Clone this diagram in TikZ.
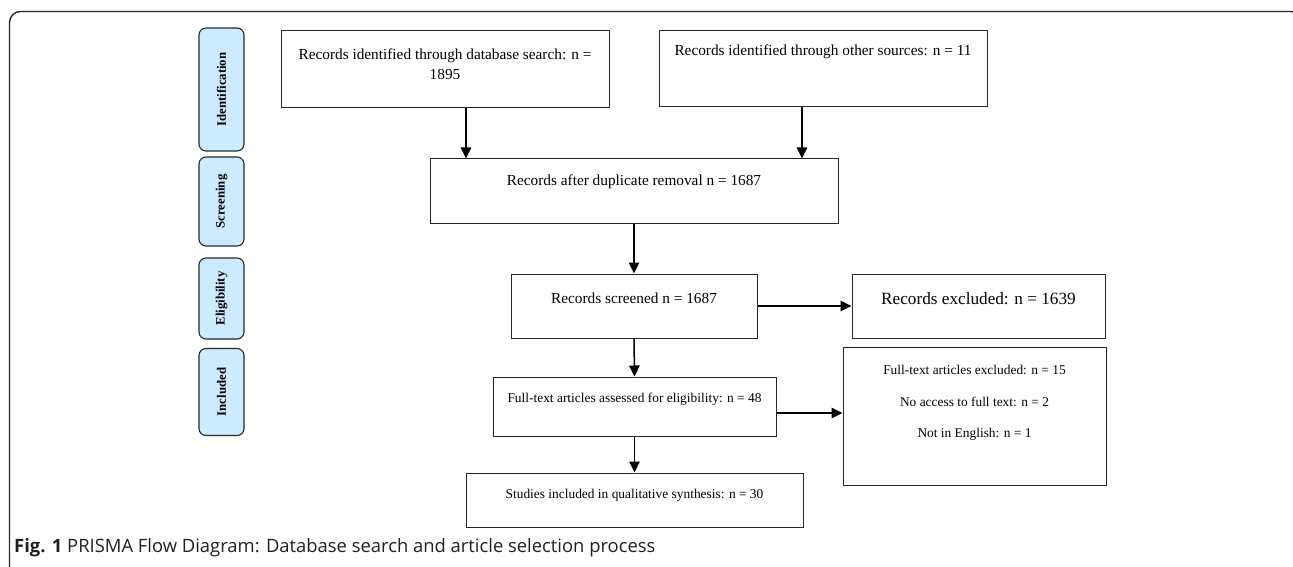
\documentclass[tikz,border=0pt]{standalone}
\usepackage{fontspec}
\setmainfont{Liberation Serif}
\newfontfamily\capfont{Open Sans}
\usetikzlibrary{arrows.meta}
\definecolor{phaseblue}{RGB}{204,235,255}
\definecolor{linegray}{RGB}{40,40,40}
\definecolor{captxt}{RGB}{35,31,32}
\begin{document}
\begin{tikzpicture}[x=1pt,y=-1pt,
  box/.style={draw=linegray, line width=1pt, inner sep=0pt},
  phase/.style={draw=linegray, fill=phaseblue, rounded corners=7pt, line width=1.1pt, inner sep=0pt, minimum width=45pt},
  ptext/.style={font=\fontsize{12.8}{14}\selectfont\bfseries, rotate=90},
  mtext/.style={font=\fontsize{15.3}{20}\selectfont, align=center},
  stext/.style={font=\fontsize{13.4}{16}\selectfont, align=center},
  arr/.style={-{Triangle[length=11pt,width=10.5pt]}, line width=1.5pt},
]
\useasboundingbox (0,0) rectangle (1293,567);
\clip (0,0) rectangle (1293,567);
% outer frame
\draw[linegray, line width=1.4pt, rounded corners=11pt] (9.5,11.5) rectangle (1302,600);

% phase boxes
\node[phase, minimum height=123pt] (P1) at (221.5,89.5) {};
\node[ptext] (P1t) at (P1.center) {Identification};
\node[phase, minimum height=89pt] (P2) at (221.5,201.5) {};
\node[ptext] (P2t) at (P2.center) {Screening};
\node[phase, minimum height=81pt] (P3) at (221.5,298.5) {};
\node[ptext] (P3t) at (P3.center) {Eligibility};
\node[phase, minimum height=87pt] (P4) at (221.5,392) {};
\node[ptext] (P4t) at (P4.center) {Included};

% boxes
\node[box, minimum width=328pt, minimum height=77pt] (A) at (445,69.5) {};
\node[mtext] (tA) at (445,64) {Records identified through database search: n =\\1895};
\node[box, minimum width=328pt, minimum height=76pt] (B) at (823,69) {};
\node[mtext] (tB) at (823,52) {Records identified through other sources: n = 11};
\node[box, minimum width=408pt, minimum height=64pt] (C) at (634,191) {};
\node[mtext] (tC) at (634,182) {Records after duplicate removal n = 1687};
\node[box, minimum width=246pt, minimum height=64pt] (D) at (634,306) {};
\node[mtext] (tD) at (634,298) {Records screened n = 1687};
\node[box, minimum width=253pt, minimum height=64pt] (E) at (978.5,306) {};
\node[font=\fontsize{17.2}{20}\selectfont] (tE) at (978.5,299) {Records excluded: n = 1639};
\node[box, minimum width=283pt, minimum height=59pt] (F) at (634.5,406.5) {};
\node[stext] (tF) at (634.5,399) {Full-text articles assessed for eligibility: n = 48};
\node[box, minimum width=263pt, minimum height=138pt] (G) at (974.5,416) {};
\node[stext] (tG1) at (974.5,370) {Full-text articles excluded: n = 15};
\node[stext] (tG2) at (974.5,402) {No access to full text: n = 2};
\node[stext] (tG3) at (974.5,434) {Not in English: n = 1};
\node[box, minimum width=337pt, minimum height=54pt] (H) at (634.5,500) {};
\node[stext] (tH) at (634.5,495) {Studies included in qualitative synthesis: n = 30};

% connector guides
\coordinate (xa) at (466,0);
\coordinate (xb) at (802,0);
\coordinate (yfg) at (0,413);

\draw[arr] (xa |- A.south) -- (xa |- C.north);
\draw[arr] (xb |- B.south) -- (xb |- C.north);
\draw[arr] (C.south) -- (D.north);
\draw[arr] (D.east) -- (E.west);
\draw[arr] (D.south) -- (F.north);
\draw[arr] (F.east |- yfg) -- (G.west |- yfg);
\draw[arr] (F.south) -- (H.north);

% caption
\node[anchor=west, text=captxt, font=\capfont\fontsize{18.4}{21}\selectfont, inner sep=0pt] (cap) at (14,548) {\textbf{Fig. 1} PRISMA Flow Diagram: Database search and article selection process};
\end{tikzpicture}
\end{document}
